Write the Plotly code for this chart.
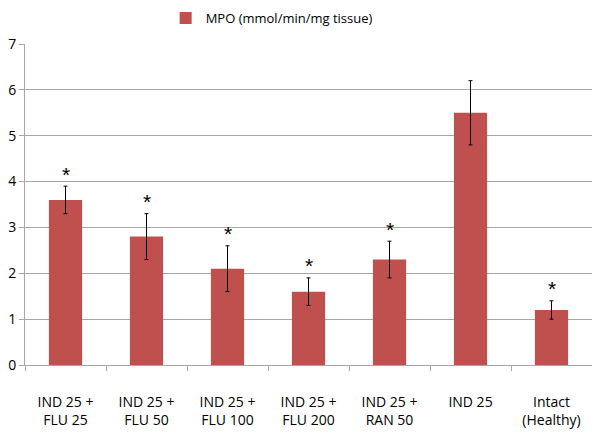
import plotly.graph_objects as go

categories = ["IND 25 +<br>FLU 25", "IND 25 +<br>FLU 50", "IND 25 +<br>FLU 100",
              "IND 25 +<br>FLU 200", "IND 25 +<br>RAN 50", "IND 25", "Intact<br>(Healthy)"]
values = [3.6, 2.8, 2.1, 1.6, 2.3, 5.5, 1.2]
errors = [0.3, 0.5, 0.5, 0.3, 0.4, 0.7, 0.2]
significant = [True, True, True, True, True, False, True]
series_name = "MPO (mmol/min/mg tissue)"

fig = go.Figure()
fig.add_trace(go.Bar(
    x=categories, y=values, name=series_name,
    marker=dict(color="#C0504D", line=dict(width=0)),
    error_y=dict(type="data", array=errors, visible=True, color="black",
                 thickness=1, width=2),
    showlegend=True,
))

for c, v, e, s in zip(categories, values, errors, significant):
    if s:
        fig.add_annotation(x=c, y=v + e, text="*", showarrow=False,
                           yshift=12, font=dict(size=21, color="black",
                                                family="Liberation Sans"))

fig.update_layout(
    width=600, height=436,
    margin=dict(l=17, r=16, t=36, b=79, autoexpand=False),
    paper_bgcolor="white", plot_bgcolor="white",
    font=dict(family="Open Sans, Liberation Sans, sans-serif", size=13, color="black"),
    bargap=0.59,
    legend=dict(orientation="h", x=0.435, xanchor="center",
                y=1.081, yanchor="middle", font=dict(size=13), itemwidth=30),
    yaxis=dict(range=[0, 7], dtick=1, showgrid=True, gridcolor="#A6A6A6",
               gridwidth=1, showline=True, linecolor="#A6A6A6", ticks="outside",
               ticklen=5, tickcolor="#A6A6A6", zeroline=False,
               tickfont=dict(size=14)),
    xaxis=dict(showline=True, linecolor="#A6A6A6", ticks="outside",
               tickson="boundaries", ticklen=5, tickcolor="#A6A6A6",
               ticklabelstandoff=24, tickfont=dict(size=14)),
)

fig.write_html("out.html")
